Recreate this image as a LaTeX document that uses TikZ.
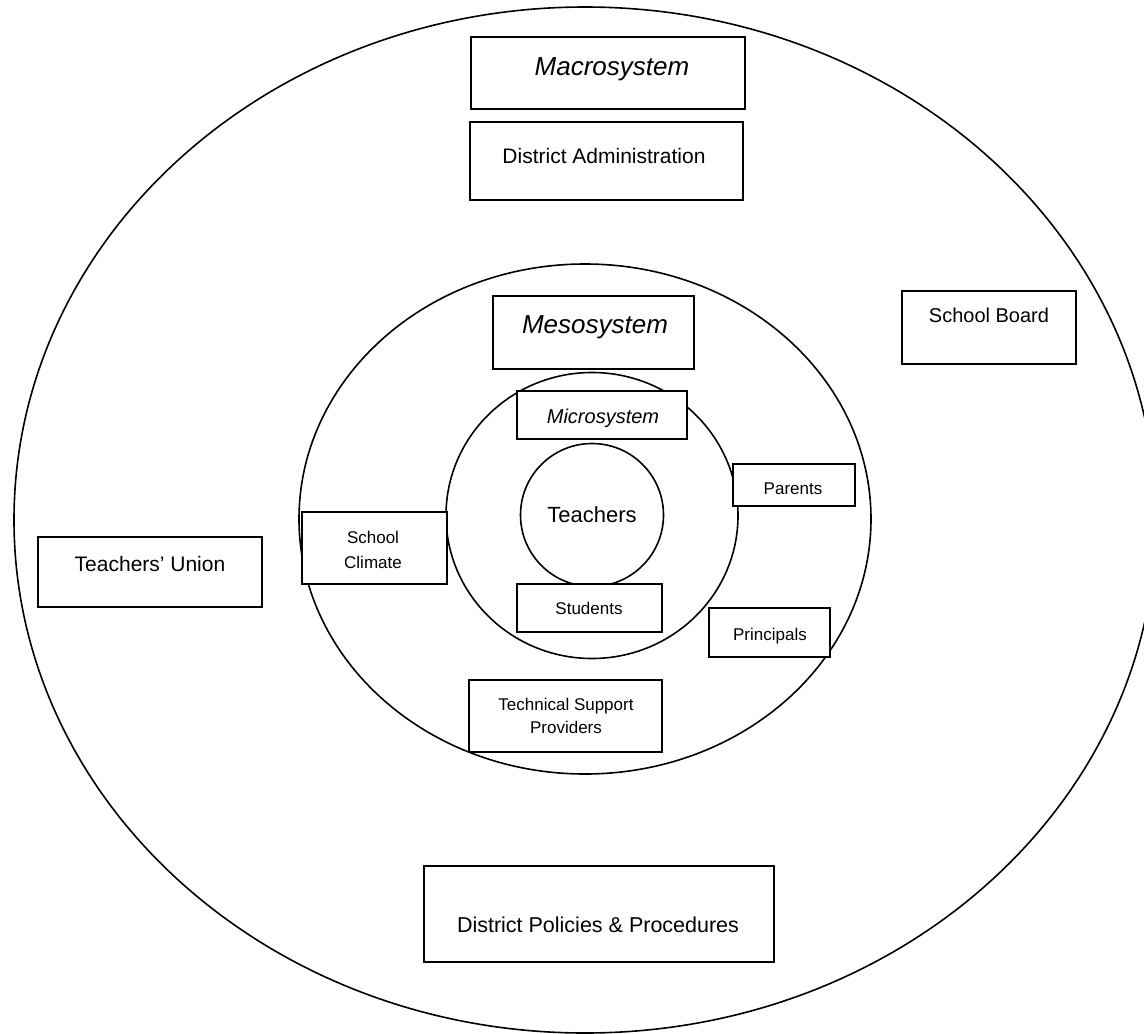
\documentclass[tikz,border=0pt]{standalone}
\usepackage{fontspec}
\setmainfont{Liberation Sans}
\begin{document}
\begin{tikzpicture}[x=1pt,y=-1pt,line width=1.6pt,
  box/.style={draw,fill=white,rectangle,inner sep=0pt,line width=1.8pt},
  lbl/.style={inner sep=0pt,align=center,anchor=base},
  fs/.style={font=\fontsize{#1}{#1}\selectfont}]
\useasboundingbox (0,0) rectangle (1144,1034);

% nested system boundaries
\draw (585,520) ellipse [x radius=571pt,y radius=513pt];
\draw (585,519) ellipse [x radius=286pt,y radius=255pt];
\draw (592,515.5) ellipse [x radius=146pt,y radius=143pt];

% macrosystem level
\node[box,minimum width=274pt,minimum height=72pt] (macro) at (608,73) {};
\node[lbl,fs=26] (macrot) at (612,75) {\itshape Macrosystem};
\node[box,minimum width=273pt,minimum height=78pt] (distadmin) at (606.5,161) {};
\node[lbl,fs=21] (distadmint) at (604,163) {District Administration};
\node[box,minimum width=174pt,minimum height=73pt] (board) at (989,327.5) {};
\node[lbl,fs=20] (boardt) at (989,322) {School Board};
\node[box,minimum width=224pt,minimum height=70pt] (union) at (150,572) {};
\node[lbl,fs=21] (uniont) at (150,571) {Teachers’ Union};
\node[box,minimum width=350pt,minimum height=96pt] (policies) at (599,914) {};
\node[lbl,fs=21.5] (policiest) at (598,932) {District Policies \& Procedures};

% mesosystem level
\node[box,minimum width=201pt,minimum height=73pt] (meso) at (593.5,332.5) {};
\node[lbl,fs=26] (mesot) at (595,333) {\itshape Mesosystem};
\node[box,minimum width=122pt,minimum height=42pt] (parents) at (794,485) {};
\node[lbl,fs=17] (parentst) at (793,494) {Parents};
\node[box,minimum width=121pt,minimum height=49pt] (principals) at (769.5,632.5) {};
\node[lbl,fs=17] (principalst) at (770,640) {Principals};
\node[box,minimum width=145pt,minimum height=72pt] (climate) at (374.5,548) {};
\node[lbl,font=\fontsize{17}{25}\selectfont] (climatet) at (373,568) {School\\Climate};
\node[box,minimum width=193pt,minimum height=72pt] (support) at (565.5,716) {};
\node[lbl,font=\fontsize{17}{23}\selectfont] (supportt) at (566,733) {Technical Support\\Providers};

% microsystem level
\node[box,minimum width=170pt,minimum height=48pt] (micro) at (602,415) {};
\node[lbl,fs=20] (microt) at (603,423) {\itshape Microsystem};
\node[draw,circle,minimum size=143pt,inner sep=0pt,fs=22] (teachers) at (592,515) {Teachers};
\node[box,minimum width=145pt,minimum height=48pt] (students) at (589.5,608) {};
\node[lbl,fs=17] (studentst) at (589,614) {Students};
\end{tikzpicture}
\end{document}
